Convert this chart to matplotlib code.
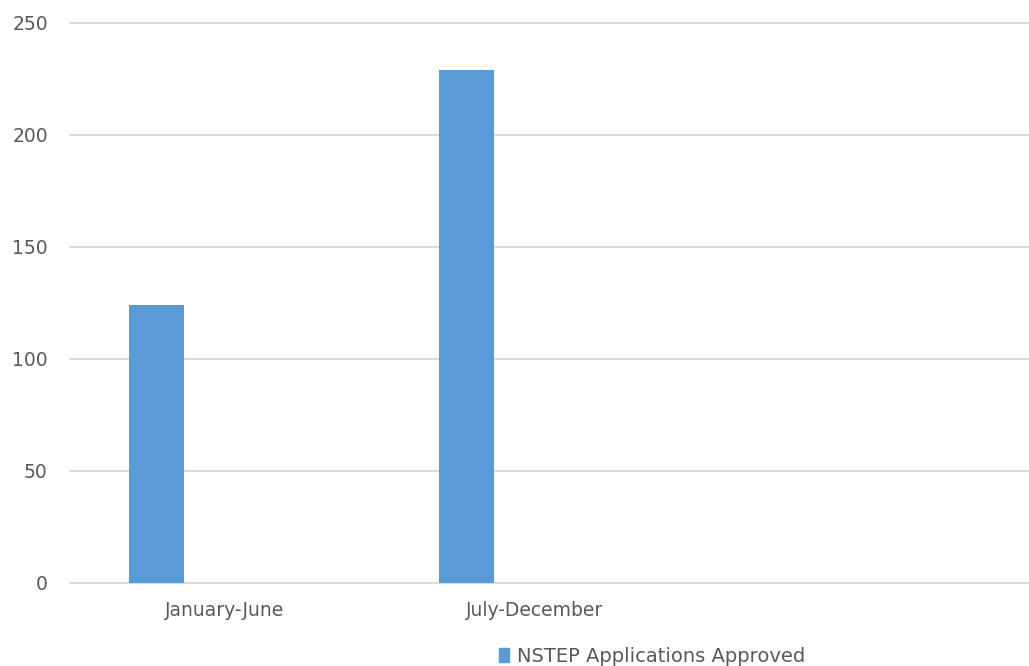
import matplotlib.pyplot as plt
import matplotlib.patches as mpatches
import numpy as np

# data
categories = ['January-June', 'July-December', '']
approved = [124, 229, 0]
series_name = 'NSTEP Applications Approved'
y_ticks = [0, 50, 100, 150, 200, 250]

bar_color = '#5b9bd5'
grid_color = '#d9d9d9'
text_color = '#595959'

plt.rcParams['font.family'] = ['DejaVu Sans']

fig = plt.figure(figsize=(10.29, 6.66), dpi=100)
ax = fig.add_axes([70 / 1029, 83 / 666, 959 / 1029, 560 / 666])

x = np.arange(len(categories))
# bars sit left of the category centre (empty companion series in the original)
ax.bar(x[:2] - 0.221, approved[:2], width=0.177, color=bar_color, zorder=3)

ax.set_xlim(-0.5, -0.5 + 959 / 310)
ax.set_ylim(0, 250)
ax.set_yticks(y_ticks)
ax.set_xticks(x[:2])
ax.set_xticklabels(categories[:2])
ax.yaxis.grid(True, color=grid_color, linewidth=1.3, clip_on=False)
ax.set_axisbelow(True)
for s in ax.spines.values():
    s.set_visible(False)
ax.tick_params(axis='both', length=0, labelsize=13.5, colors=text_color)
ax.tick_params(axis='y', pad=16)
ax.tick_params(axis='x', pad=13)

handle = mpatches.Patch(color=bar_color, label=series_name)
fig.legend(handles=[handle], loc='center', bbox_to_anchor=(652 / 1029, 1 - 656 / 666),
           frameon=False, fontsize=14, labelcolor=text_color,
           handlelength=0.55, handleheight=0.75, handletextpad=0.4)

fig.savefig('out.png', dpi=100)
